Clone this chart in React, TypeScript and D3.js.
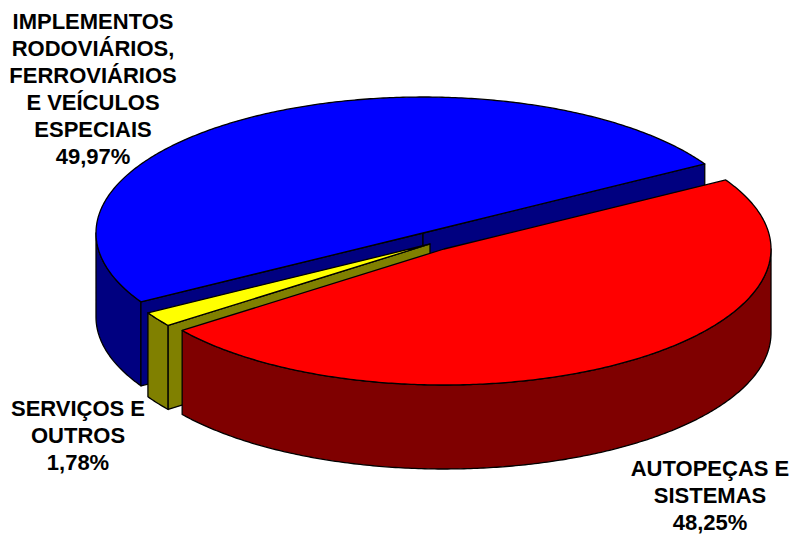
import * as d3 from "d3";

const categories = ["AUTOPEÇAS E SISTEMAS", "SERVIÇOS E OUTROS", "IMPLEMENTOS RODOVIÁRIOS, FERROVIÁRIOS E VEÍCULOS ESPECIAIS"];
const shares = [48.25, 1.78, 49.97];
const topColors = ["#ff0000", "#ffff00", "#0000ff"];
const sideColors = ["#7f0000", "#808000", "#000080"];
const centers: [number, number][] = [[444, 249], [430, 244], [423, 233]];
const labelLines = [
  ["AUTOPEÇAS E", "SISTEMAS", "48,25%"],
  ["SERVIÇOS E", "OUTROS", "1,78%"],
  ["IMPLEMENTOS", "RODOVIÁRIOS,", "FERROVIÁRIOS", "E VEÍCULOS", "ESPECIAIS", "49,97%"],
];
const labelPos: [number, number][] = [[710, 476], [78, 416], [93, 29]];
const labelStep = 27;

const RX = 327;
const RY = 136;
const DEPTH = 84;
const START = (59.5 * Math.PI) / 180;

type P = [number, number];

const pie = d3.pie<number>().sort(null).startAngle(START).endAngle(START + 2 * Math.PI);
const arcs = pie(shares);

const pt = (c: P, a: number, dz = 0): P => [c[0] + RX * Math.sin(a), c[1] - RY * Math.cos(a) + dz];
const line = d3.line<P>();

function sample(a0: number, a1: number): number[] {
  const n = Math.max(2, Math.ceil(Math.abs(a1 - a0) / 0.01));
  return d3.range(n + 1).map((i) => a0 + ((a1 - a0) * i) / n);
}

function topPath(c: P, a0: number, a1: number) {
  return line([c, ...sample(a0, a1).map((a) => pt(c, a)), c]) + "Z";
}
function rimPath(c: P, a0: number, a1: number) {
  const as = sample(a0, a1);
  const upper = as.map((a) => pt(c, a));
  const lower = as.slice().reverse().map((a) => pt(c, a, DEPTH));
  return line([...upper, ...lower]) + "Z";
}
function wallPath(p: P, q: P) {
  const pts: P[] = [p, q, [q[0], q[1] + DEPTH], [p[0], p[1] + DEPTH]];
  return line(pts) + "Z";
}

// visible part of the outer wall: the front half of the ellipse, angles 90°..270°
function visibleRim(a0: number, a1: number): [number, number] | null {
  const from = Math.max(a0, Math.PI / 2);
  const to = Math.min(a1, 1.5 * Math.PI);
  return to > from ? [from, to] : null;
}

const stroke = { stroke: "#000", strokeWidth: 1.3, strokeLinejoin: "round" as const };

function Slice({ i }: { i: number }) {
  const d = arcs[i];
  const c = centers[i];
  const rim = visibleRim(d.startAngle, d.endAngle);
  const side = sideColors[i];
  const walls: [P, P][] =
    i === 2
      ? [[pt(c, d.startAngle), c], [c, pt(c, d.endAngle)]]
      : i === 1
        ? [[pt(c, d.startAngle), c]]
        : [];
  return (
    <g>
      {rim && <path d={rimPath(c, rim[0], rim[1])} fill={side} {...stroke} />}
      {walls.map(([p, q], k) => (
        <path key={k} d={wallPath(p, q)} fill={side} {...stroke} />
      ))}
      <path d={topPath(c, d.startAngle, d.endAngle)} fill={topColors[i]} {...stroke} />
    </g>
  );
}

export default function App() {
  return (
    <svg
      width={792}
      height={534}
      viewBox="0 0 792 534"
      style={{ position: "absolute", left: 0, top: 0, background: "#fff" }}
    >
      <title>{categories.join(" / ")}</title>
      {[2, 1, 0].map((i) => (
        <Slice key={i} i={i} />
      ))}
      {labelLines.map((lines, i) => (
        <text
          key={i}
          textAnchor="middle"
          fontFamily="'Liberation Sans', Arial, sans-serif"
          fontWeight="bold"
          fontSize={22}
          fill="#000"
        >
          {lines.map((t, k) => (
            <tspan key={k} x={labelPos[i][0]} y={labelPos[i][1] + k * labelStep}>
              {t}
            </tspan>
          ))}
        </text>
      ))}
    </svg>
  );
}
